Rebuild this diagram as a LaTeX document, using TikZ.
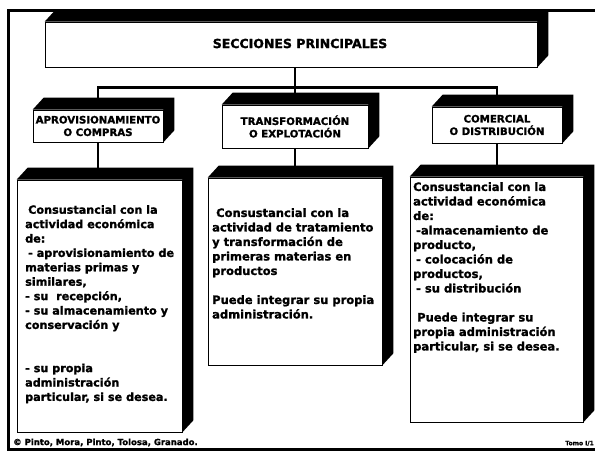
\documentclass[tikz,border=0pt]{standalone}
\usepackage{fontspec}
\setmainfont{DejaVu Sans}
\newfontfamily\heavy{DejaVu Sans Bold}[FakeBold=1.4]
\usetikzlibrary{calc}
\newcommand{\depthfill}[1]{\fill (#1.north west) -- ++(11,-12) -- ($(#1.north east)+(11,-12)$) -- ($(#1.south east)+(11,-12)$) -- (#1.south east) -- (#1.north east) -- cycle;}
\begin{document}
\begin{tikzpicture}[x=1pt,y=-1pt,
  front/.style={draw=black,line width=0.7pt,fill=white,inner sep=0pt},
  conn/.style={line width=2.8pt},
  frameline/.style={line width=3pt},
  hdr/.style={font=\heavy\fontsize{10.2}{12.5}\selectfont,align=center},
  body/.style={font=\heavy\fontsize{11.5}{14.5}\selectfont,align=left,anchor=north west,inner sep=0pt},
  foot/.style={inner sep=0pt}
]
\useasboundingbox (0,0) rectangle (595,453);
% outer frame
\draw[frameline] (598,10.5) -- (8.5,10.5) -- (8.5,449) -- (598,449);

% top box
\node[front,minimum width=492pt,minimum height=45pt] (top) at (291,44.5) {};
\depthfill{top}
\node[font=\heavy\fontsize{12.5}{14}\selectfont,inner sep=0pt] (title) at ($(top.center)+(9,-1)$) {SECCIONES PRINCIPALES};

% header boxes
\node[front,hdr,minimum width=130pt,minimum height=32pt] (h1) at (98,126) {APROVISIONAMIENTO\\O COMPRAS};
\node[front,hdr,minimum width=146pt,minimum height=43pt] (h2) at (295,126.5) {TRANSFORMACIÓN\\O EXPLOTACIÓN};
\node[front,hdr,minimum width=130pt,minimum height=36pt] (h3) at (497,125) {COMERCIAL\\O DISTRIBUCIÓN};
\depthfill{h1}
\depthfill{h2}
\depthfill{h3}

% content boxes
\node[front,minimum width=165pt,minimum height=252pt] (c1) at (99.5,306) {};
\node[front,minimum width=174pt,minimum height=187pt] (c2) at (295,271.5) {};
\node[front,minimum width=173pt,minimum height=245pt] (c3) at (496.5,299.5) {};
\depthfill{c1}
\depthfill{c2}
\depthfill{c3}

% connectors
\coordinate (h1t) at ($(h1.north)+(0,-12)$);
\coordinate (h2t) at ($(h2.north)+(0,-12)$);
\coordinate (h3t) at ($(h3.north)+(0,-12)$);
\coordinate (c1t) at ($(c1.north)+(0,-12)$);
\coordinate (c2t) at ($(c2.north)+(0,-12)$);
\coordinate (c3t) at ($(c3.north)+(0,-12)$);
\draw[conn] (top.south -| h2.north) -- (h2t);
\draw[conn] (h1t) -- ++(0,-10) coordinate (busl) -- (busl -| h3t) -- (h3t);
\draw[conn] (h1.south) -- (h1.south |- c1t);
\draw[conn] (h2.south) -- (h2.south |- c2t);
\draw[conn] (h3.south) -- (h3.south |- c3t);

% texts
\node[body,font=\heavy\fontsize{11.2}{14.4}\selectfont] (t1) at (25,205) {\hspace*{3pt}Consustancial con la\\
actividad económica\\
de:\\
\hspace*{3pt}- aprovisionamiento de\\
materias primas y\\
similares,\\
- su\ \ recepción,\\
- su almacenamiento y\\
conservación y\\
\mbox{}\\
\mbox{}\\
- su propia\\
administración\\
particular, si se desea.};

\node[body] (t2) at (212,208) {\hspace*{4pt}Consustancial con la\\
actividad de tratamiento\\
y transformación de\\
primeras materias en\\
productos\\
\mbox{}\\
Puede integrar su propia\\
administración.};

\node[body] (t3) at (413,182) {Consustancial con la\\
actividad económica\\
de:\\
\hspace*{3pt}-almacenamiento de\\
producto,\\
\hspace*{3pt}- colocación de\\
productos,\\
\hspace*{3pt}- su distribución\\
\mbox{}\\
\hspace*{4pt}Puede integrar su\\
propia administración\\
particular, si se desea.};

% footer
\node[foot,font=\heavy\fontsize{8.5}{10}\selectfont,anchor=south west] (copy) at (13,446.5) {© Pinto, Mora, Pinto, Tolosa, Granado.};
\node[foot,font=\heavy\fontsize{6}{7}\selectfont,anchor=south east] (tomo) at (594,446) {Tomo I/1};
\end{tikzpicture}
\end{document}
